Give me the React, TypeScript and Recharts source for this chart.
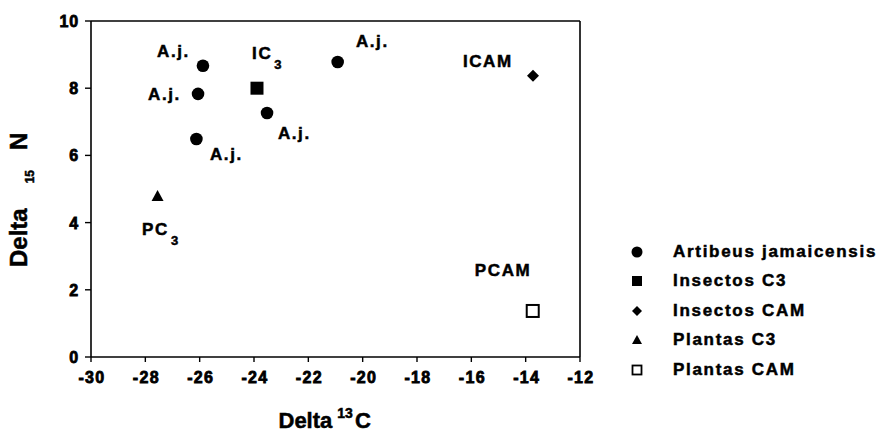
import { ScatterChart, Scatter, XAxis, YAxis, ReferenceLine, Label } from 'recharts'

const FONT = '"Liberation Sans", Arial, sans-serif'

// values (delta 13C, delta 15N)
const artibeus = [
  { x: -25.88, y: 8.67 },
  { x: -26.06, y: 7.83 },
  { x: -26.12, y: 6.49 },
  { x: -23.52, y: 7.26 },
  { x: -20.92, y: 8.78 },
]
const insectosC3 = [{ x: -23.89, y: 8.0 }]
const insectosCAM = [{ x: -13.73, y: 8.37 }]
const plantasC3 = [{ x: -27.55, y: 4.79 }]
const plantasCAM = [{ x: -13.74, y: 1.37 }]

// text annotations, anchored in data units
const notes = [
  { x: -27.57, y: 9.12, text: 'A.j.', sub: '' },
  { x: -27.9, y: 7.83, text: 'A.j.', sub: '' },
  { x: -25.62, y: 6.04, text: 'A.j.', sub: '' },
  { x: -23.12, y: 6.67, text: 'A.j.', sub: '' },
  { x: -20.25, y: 9.4, text: 'A.j.', sub: '' },
  { x: -24.07, y: 9.06, text: 'IC', sub: '3' },
  { x: -28.12, y: 3.82, text: 'PC', sub: '3' },
  { x: -16.31, y: 8.81, text: 'ICAM', sub: '' },
  { x: -15.87, y: 2.6, text: 'PCAM', sub: '' },
]

const xTicks = [-30, -28, -26, -24, -22, -20, -18, -16, -14, -12]
const yTicks = [0, 2, 4, 6, 8, 10]

const legendNames = ['Artibeus jamaicensis', 'Insectos C3', 'Insectos CAM', 'Plantas C3', 'Plantas CAM']

// scanned figure: heavy bold text, thickened with a thin stroke
const bold = { fontFamily: FONT, fontWeight: 700, stroke: '#000', strokeWidth: 0.5 }

const Dot = (p: any) => <circle cx={p.cx} cy={p.cy} r={6.3} fill="#000" />
const Sq = (p: any) => <rect x={p.cx - 6.5} y={p.cy - 6.5} width={13} height={13} fill="#000" />
const Dia = (p: any) => (
  <polygon points={`${p.cx},${p.cy - 6} ${p.cx + 6},${p.cy} ${p.cx},${p.cy + 6} ${p.cx - 6},${p.cy}`} fill="#000" />
)
const Tri = (p: any) => (
  <polygon points={`${p.cx},${p.cy - 6} ${p.cx + 6},${p.cy + 5} ${p.cx - 6},${p.cy + 5}`} fill="#000" />
)
const OpenSq = (p: any) => (
  <rect x={p.cx - 6} y={p.cy - 6} width={12} height={12} fill="#fff" stroke="#000" strokeWidth={2} />
)

const Note = (p: any) => {
  const d = p.payload
  return (
    <text x={p.cx} y={p.cy + 6} style={{ ...bold, fontSize: 17, letterSpacing: 1.6 }} fill="#000">
      {d.text}
      {d.sub && (
        <tspan style={{ fontSize: 13 }} dx={2} dy={10}>
          {d.sub}
        </tspan>
      )}
    </text>
  )
}

const XTick = (p: any) => (
  <text
    x={p.x + 1}
    y={p.y + 21}
    textAnchor="middle"
    fill="#000"
    stroke="#000"
    strokeWidth={0.8}
    fontFamily={FONT}
    fontWeight={700}
    fontSize={16}
    letterSpacing={1.3}
  >
    {p.payload.value}
  </text>
)
const YTick = (p: any) => (
  <text
    x={p.x}
    y={p.y + 6}
    textAnchor="end"
    fill="#000"
    stroke="#000"
    strokeWidth={0.8}
    fontFamily={FONT}
    fontWeight={700}
    fontSize={16}
    letterSpacing={0.8}
  >
    {p.payload.value}
  </text>
)

const XLabel = (p: any) => {
  const vb = p.viewBox
  const x0 = vb.x + vb.width / 2 - 57
  return (
    <text x={x0} y={428} style={{ ...bold, fontSize: 22 }} fill="#000">
      Delta
      <tspan style={{ fontSize: 14 }} dx={5} dy={-10}>13</tspan>
      <tspan dx={2} dy={10}>C</tspan>
    </text>
  )
}

const YLabel = (p: any) => {
  const vb = p.viewBox
  const x0 = 27
  const y0 = vb.y + vb.height / 2 + 78
  return (
    <text x={x0} y={y0} transform={`rotate(-90, ${x0}, ${y0})`} style={{ ...bold, fontSize: 24 }} fill="#000">
      Delta
      <tspan style={{ fontSize: 12 }} dx={25} dy={7}>15</tspan>
      <tspan dx={20} dy={-7}>N</tspan>
    </text>
  )
}

const legendIcons = [
  <circle cx={8} cy={8} r={5.5} fill="#000" />,
  <rect x={3} y={3} width={10} height={10} fill="#000" />,
  <polygon points="8,3 13,8 8,13 3,8" fill="#000" />,
  <polygon points="8,3 13,12 3,12" fill="#000" />,
  <rect x={3.5} y={3.5} width={9} height={9} fill="#fff" stroke="#000" strokeWidth={1.8} />,
]

export default function App() {
  return (
    <div style={{ position: 'absolute', left: 0, top: 0, width: 893, height: 433, background: '#fff' }}>
      <ScatterChart width={893} height={433} margin={{ top: 21, right: 313, bottom: 0, left: 0 }}>
        <XAxis
          type="number"
          dataKey="x"
          domain={[-30, -12]}
          ticks={xTicks}
          height={76}
          tickSize={5}
          tickMargin={0}
          tick={XTick}
          axisLine={{ stroke: '#000', strokeWidth: 1.6 }}
          tickLine={{ stroke: '#000', strokeWidth: 1.4 }}
          allowDataOverflow
        >
          <Label content={XLabel} />
        </XAxis>
        <YAxis
          type="number"
          dataKey="y"
          domain={[0, 10]}
          ticks={yTicks}
          width={91}
          tickSize={6}
          tickMargin={6}
          tick={YTick}
          axisLine={{ stroke: '#000', strokeWidth: 1.6 }}
          tickLine={{ stroke: '#000', strokeWidth: 1.4 }}
          allowDataOverflow
        >
          <Label content={YLabel} />
        </YAxis>
        <ReferenceLine y={10} stroke="#000" strokeWidth={1.6} />
        <ReferenceLine x={-12} stroke="#000" strokeWidth={1.6} />
        <Scatter name="Artibeus jamaicensis" data={artibeus} shape={Dot} isAnimationActive={false} />
        <Scatter name="Insectos C3" data={insectosC3} shape={Sq} isAnimationActive={false} />
        <Scatter name="Insectos CAM" data={insectosCAM} shape={Dia} isAnimationActive={false} />
        <Scatter name="Plantas C3" data={plantasC3} shape={Tri} isAnimationActive={false} />
        <Scatter name="Plantas CAM" data={plantasCAM} shape={OpenSq} isAnimationActive={false} />
        <Scatter name="notes" data={notes} shape={Note} legendType="none" isAnimationActive={false} />
      </ScatterChart>
      <div style={{ position: 'absolute', left: 629, top: 237 }}>
        {legendNames.map((n, i) => (
          <div key={n} style={{ display: 'flex', alignItems: 'center', height: 29.5 }}>
            <svg width={16} height={16} style={{ marginRight: 28 }}>
              {legendIcons[i]}
            </svg>
            <span
              style={{
                fontFamily: FONT,
                fontWeight: 700,
                fontSize: 17,
                letterSpacing: 1.7,
                color: '#000',
                WebkitTextStroke: '0.5px #000',
              }}
            >
              {n}
            </span>
          </div>
        ))}
      </div>
    </div>
  )
}
